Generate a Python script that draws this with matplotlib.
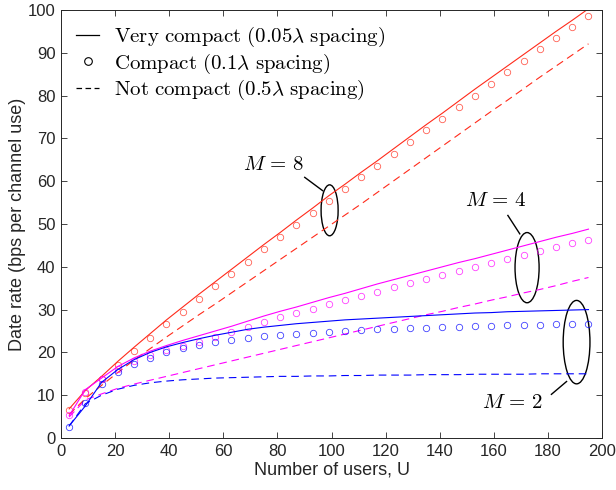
import matplotlib
matplotlib.use("Agg")
import matplotlib.pyplot as plt
from matplotlib.patches import Ellipse
from matplotlib.lines import Line2D

plt.rcParams['mathtext.fontset'] = 'cm'
plt.rcParams['font.family'] = ['Liberation Sans', 'DejaVu Sans']
plt.rcParams['lines.scale_dashes'] = False

# ---------------- data ----------------
U = [3, 9, 15, 21, 27, 33, 39, 45, 51, 57, 63, 69, 75, 81, 87, 93, 99, 105,
     111, 117, 123, 129, 135, 141, 147, 153, 159, 165, 171, 177, 183, 189, 195]

# M = 8
m8_very = [6.8, 11.1, 14.4, 17.9, 21.2, 24.4, 27.6, 30.6, 33.6, 36.5, 39.4, 42.3,
           45.2, 48.0, 50.9, 53.7, 56.6, 59.3, 62.1, 64.8, 67.6, 70.4, 73.2, 75.9,
           78.7, 81.5, 84.2, 86.9, 89.6, 92.3, 95.0, 97.6, 100.3]
m8_compact = [6.5, 10.6, 13.7, 17.1, 20.3, 23.4, 26.6, 29.5, 32.5, 35.4, 38.3, 41.2,
              44.1, 46.9, 49.8, 52.6, 55.4, 58.1, 60.9, 63.6, 66.4, 69.2, 71.9, 74.5,
              77.3, 80.0, 82.7, 85.4, 88.1, 90.8, 93.4, 96.0, 98.7]
m8_not = [5.5, 9.2, 12.3, 15.3, 18.2, 20.9, 23.6, 26.2, 28.8, 31.3, 33.9, 36.5,
          39.1, 41.7, 44.3, 46.9, 49.5, 52.1, 54.7, 57.4, 60.1, 62.8, 65.5, 68.2,
          70.9, 73.6, 76.3, 78.9, 81.6, 84.3, 86.9, 89.5, 92.1]

# M = 4
m4_very = [5.2, 11.3, 14.0, 16.7, 18.7, 20.3, 21.6, 22.8, 23.9, 25.0, 26.1, 27.3,
           28.5, 29.6, 30.6, 31.7, 32.8, 33.8, 34.9, 36.0, 37.0, 38.0, 39.0, 40.0,
           41.0, 41.9, 42.9, 43.9, 44.9, 45.9, 46.9, 47.8, 48.8]
m4_compact = [5.4, 10.8, 13.7, 16.2, 18.0, 19.4, 20.6, 21.6, 22.5, 23.7, 24.8, 25.9,
              27.1, 28.2, 29.1, 30.1, 31.2, 32.2, 33.2, 34.2, 35.2, 36.2, 37.2, 38.1,
              39.1, 39.9, 40.9, 41.9, 42.8, 43.7, 44.6, 45.5, 46.3]
m4_not = [4.9, 8.9, 10.3, 11.6, 12.6, 13.5, 14.4, 15.3, 16.2, 17.1, 18.0, 18.9,
          19.8, 20.7, 21.6, 22.5, 23.4, 24.3, 25.2, 26.1, 27.0, 27.9, 28.8, 29.6,
          30.5, 31.3, 32.2, 33.0, 33.9, 34.7, 35.6, 36.6, 37.5]

# M = 2
m2_very = [2.8, 7.5, 13.0, 16.0, 18.3, 20.0, 21.3, 22.3, 23.2, 24.0, 24.7, 25.4,
           25.9, 26.3, 26.7, 27.0, 27.3, 27.6, 27.8, 28.0, 28.2, 28.4, 28.6, 28.8,
           29.0, 29.2, 29.3, 29.5, 29.6, 29.7, 29.8, 29.9, 30.0]
m2_compact = [2.6, 8.1, 12.6, 15.5, 17.2, 18.6, 20.0, 21.1, 21.7, 22.5, 22.9, 23.4,
              23.8, 24.1, 24.4, 24.6, 24.8, 25.0, 25.2, 25.4, 25.5, 25.6, 25.8, 25.9,
              26.0, 26.2, 26.2, 26.3, 26.4, 26.5, 26.6, 26.6, 26.7]
m2_not = [2.8, 8.0, 10.0, 11.4, 12.3, 12.9, 13.3, 13.6, 13.8, 14.0, 14.1, 14.2,
          14.3, 14.4, 14.4, 14.5, 14.5, 14.6, 14.6, 14.7, 14.7, 14.7, 14.8, 14.8,
          14.8, 14.9, 14.9, 14.9, 14.9, 15.0, 15.0, 15.0, 15.0]

x_ticks = [0, 20, 40, 60, 80, 100, 120, 140, 160, 180, 200]
y_ticks = [0, 10, 20, 30, 40, 50, 60, 70, 80, 90, 100]

legend_labels = [r'$\mathrm{Very\ compact\ (0.05}\lambda\mathrm{\ spacing)}$',
                 r'$\mathrm{Compact\ (0.1}\lambda\mathrm{\ spacing)}$',
                 r'$\mathrm{Not\ compact\ (0.5}\lambda\mathrm{\ spacing)}$']

# ---------------- figure ----------------
fig = plt.figure(figsize=(6.16, 4.9), dpi=100)
ax = fig.add_axes([61/616, 1-438/490, (602-61)/616, (438-10)/490])

RED = '#ff2a1a'
MAG = '#ff00ff'
BLU = '#0000ff'
lw = 0.8
dash = (5.5, 3.5)
ms = 4.6
mew = 0.6

for col, vv, cc, nn in [(RED, m8_very, m8_compact, m8_not),
                        (MAG, m4_very, m4_compact, m4_not),
                        (BLU, m2_very, m2_compact, m2_not)]:
    ax.plot(U, vv, '-', color=col, lw=lw)
    ax.plot(U, cc, 'o', color=col, mfc='none', ms=ms, mew=mew, alpha=0.75)
    ax.plot(U, nn, '--', color=col, lw=lw, dashes=dash)

ax.set_xlim(0, 200)
ax.set_ylim(0, 100)
ax.set_xticks(x_ticks)
ax.set_yticks(y_ticks)
ax.tick_params(direction='in', length=4, width=0.6, top=True, right=True,
               labelsize=12, colors='#262626', pad=4)
for s in ax.spines.values():
    s.set_linewidth(0.7)
    s.set_color('#262626')

ax.set_xlabel('Number of users, U', fontsize=13, color='#262626', labelpad=2)
ax.set_ylabel('Date rate (bps per channel use)', fontsize=13, color='#262626', labelpad=1)

# ellipses and labels
ell_kw = dict(fill=False, ec='black', lw=1.0)
ax.add_patch(Ellipse((99.3, 53.2), 6.3, 11.9, **ell_kw))
ax.add_patch(Ellipse((172.3, 39.8), 8.9, 16.4, **ell_kw))
ax.add_patch(Ellipse((190.6, 22.4), 9.9, 19.5, **ell_kw))
ax.plot([90.1, 96.7], [60.9, 57.8], color='black', lw=1.0)
ax.plot([165.2, 169.6], [52.0, 47.7], color='black', lw=1.0)
ax.plot([181.3, 186.9], [10.2, 13.2], color='black', lw=1.0)
ax.text(78.6, 63.8, r'$M\,=\,8$', fontsize=15, ha='center', va='center')
ax.text(160.8, 55.6, r'$M\,=\,4$', fontsize=15, ha='center', va='center')
ax.text(167.1, 8.2, r'$M\,=\,2$', fontsize=15, ha='center', va='center')

handles = [Line2D([], [], color='black', lw=0.9),
           Line2D([], [], color='black', ls='none', marker='o', mfc='none', ms=5.5, mew=0.8),
           Line2D([], [], color='black', lw=0.9, ls='--', dashes=(4, 2.5))]
ax.legend(handles, legend_labels, loc='upper left', bbox_to_anchor=(0.028, 0.965),
          frameon=False, fontsize=15, handlelength=1.1, handletextpad=0.7,
          labelspacing=0.12, borderaxespad=0, borderpad=0)

fig.savefig('out.png', dpi=100)
